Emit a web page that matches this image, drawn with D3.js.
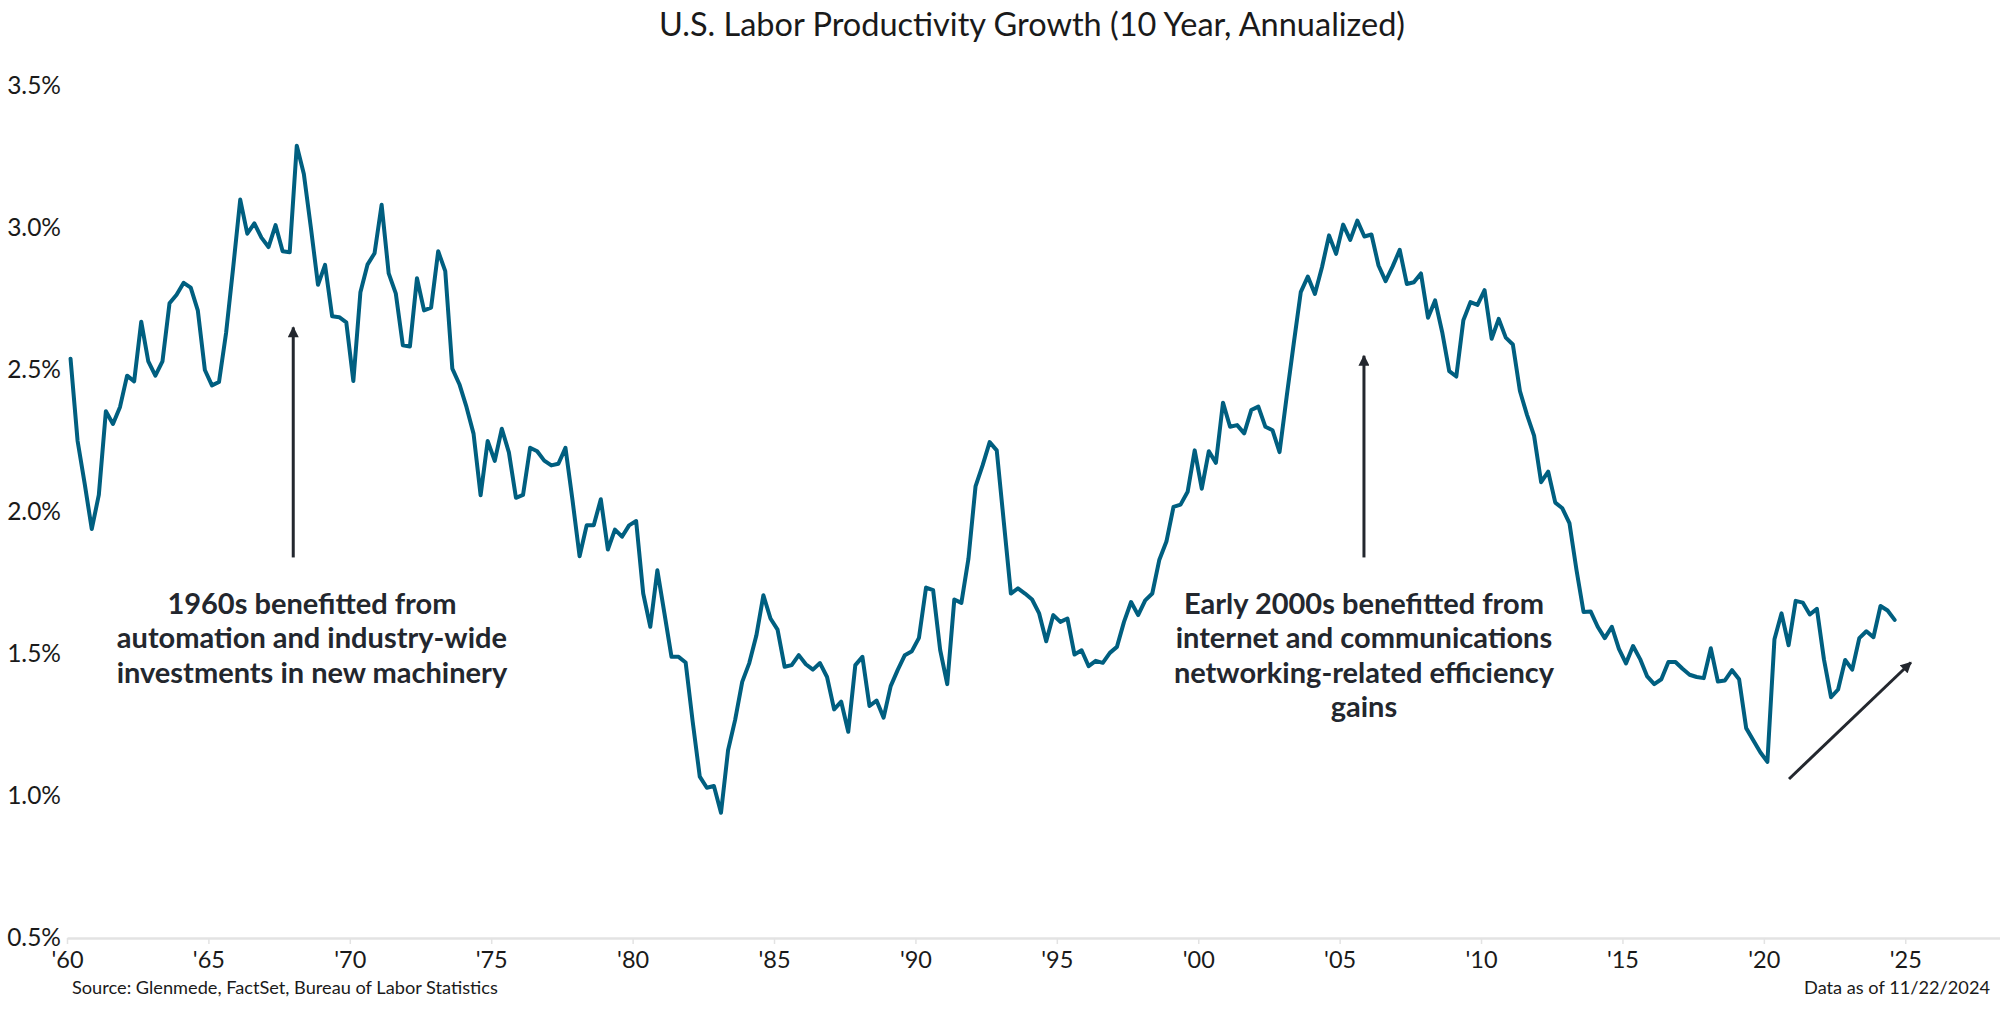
<!DOCTYPE html>
<html>
<head>
<meta charset="utf-8">
<script src="https://cdn.jsdelivr.net/npm/d3@7"></script>
<style>
  html, body { margin: 0; padding: 0; background: #ffffff; }
  svg { display: block; font-family: Lato, "Open Sans", sans-serif; }
</style>
</head>
<body>
<svg id="chart" width="2000" height="1010"></svg>
<script>
// ---------------- data ----------------
const title = "U.S. Labor Productivity Growth (10 Year, Annualized)";
const sourceText = "Source: Glenmede, FactSet, Bureau of Labor Statistics";
const asOfText = "Data as of 11/22/2024";
const startYear = 1960;          // first quarter: 1960 Q1, quarterly thereafter
const productivity = [
  2.54,2.25,2.10,1.94,2.06,2.355,2.31,2.37,2.48,2.46,
  2.67,2.53,2.48,2.53,2.735,2.765,2.807,2.79,2.71,2.50,
  2.446,2.458,2.63,2.86,3.10,2.98,3.016,2.966,2.933,3.01,
  2.918,2.915,3.29,3.19,3.00,2.80,2.87,2.689,2.686,2.668,
  2.461,2.774,2.871,2.911,3.082,2.84,2.77,2.587,2.583,2.823,
  2.71,2.72,2.918,2.848,2.505,2.45,2.37,2.276,2.059,2.25,
  2.18,2.293,2.21,2.05,2.06,
  2.226,2.214,2.181,2.164,2.17,2.226,2.041,1.844,1.953,1.953,
  2.045,1.868,1.938,1.913,1.953,1.968,1.713,1.596,1.795,1.643,
  1.49,1.49,1.47,1.261,1.068,1.029,1.035,0.941,1.161,1.268,
  1.402,1.468,1.565,1.707,1.625,1.586,1.455,1.461,1.496,1.464,
  1.445,1.468,1.419,1.305,1.332,1.226,1.461,1.49,1.317,1.336,
  1.276,1.387,1.444,1.496,1.51,1.557,1.734,1.725,1.514,1.394,
  1.692,1.68,1.836,2.09,2.164,2.246,
  2.217,1.965,1.713,1.731,1.713,1.692,1.643,1.545,1.637,1.613,
  1.625,1.498,1.513,1.457,1.476,1.469,1.504,1.525,1.613,1.683,
  1.637,1.689,1.713,1.832,1.896,2.018,2.026,2.071,2.217,2.082,
  2.214,2.173,2.385,2.3,2.306,2.277,2.359,2.371,2.3,2.288,
  2.211,2.405,2.592,2.774,2.829,2.768,2.862,2.974,2.909,3.012,
  2.958,3.026,2.97,2.977,2.868,2.813,2.865,2.923,2.803,2.809,
  2.84,2.684,2.745,2.634,2.496,2.477,
  2.675,2.739,2.729,2.781,2.61,2.68,2.614,2.59,2.426,2.342,
  2.269,2.105,2.142,2.033,2.013,1.961,1.796,1.648,1.65,1.596,
  1.556,1.596,1.518,1.467,1.528,1.482,1.421,1.394,1.411,1.472,
  1.472,1.448,1.427,1.419,1.415,1.52,1.403,1.407,1.443,1.411,
  1.239,1.196,1.154,1.12,1.552,1.643,1.531,1.687,1.681,1.639,
  1.659,1.481,1.348,1.375,1.479,1.445,1.556,1.58,1.559,1.669,
  1.653,1.62
];
const xTickYears = [1960,1965,1970,1975,1980,1985,1990,1995,2000,2005,2010,2015,2020,2025];
const xTickLabels = ["'60","'65","'70","'75","'80","'85","'90","'95","'00","'05","'10","'15","'20","'25"];
const yTickValues = [0.5,1.0,1.5,2.0,2.5,3.0,3.5];
const yTickLabels = ["0.5%","1.0%","1.5%","2.0%","2.5%","3.0%","3.5%"];

// annotations (data units: year, percent)
const arrowStarts = [[1968.0, 1.84], [2005.86, 1.84], [2020.89, 1.06]];
const arrowEnds   = [[1968.0, 2.65], [2005.86, 2.55], [2025.2, 1.47]];
const noteCenters = [1968.66, 2005.86];
const noteLines = [
  ["1960s benefitted from", "automation and industry-wide", "investments in new machinery"],
  ["Early 2000s benefitted from", "internet and communications", "networking-related efficiency", "gains"]
];

// ---------------- chart ----------------
const W = 2000, H = 1010;
const svg = d3.select("#chart");

const x = d3.scaleLinear().domain([1960, 2028.35]).range([67, 2000]);
const y = d3.scaleLinear().domain([0.5, 3.5]).range([938, 86]);

const series = productivity.map((v, i) => ({ t: startYear + i / 4 + 0.125, v }));

// title
svg.append("text")
  .attr("x", 1032).attr("y", 36)
  .attr("text-anchor", "middle")
  .attr("font-size", 32.5)
  .attr("fill", "#1a1a1a")
  .text(title);

// x axis
const xAxis = d3.axisBottom(x)
  .tickValues(xTickYears)
  .tickFormat((d, i) => xTickLabels[i])
  .tickSize(6)
  .tickSizeOuter(0);
const gx = svg.append("g").attr("transform", `translate(0,${y(0.5)})`).call(xAxis);
gx.select(".domain").attr("stroke", "#e3e3e3").attr("stroke-width", 2.5);
gx.selectAll(".tick line").attr("stroke", "#e3e3e3").attr("stroke-width", 1.5);
gx.selectAll(".tick text")
  .attr("font-family", "Lato, sans-serif")
  .attr("font-size", 23.5)
  .attr("fill", "#1a1a1a")
  .attr("dy", "0.45em")
  .attr("y", 19);

// y axis labels (no line)
const yAxis = d3.axisLeft(y)
  .tickValues(yTickValues)
  .tickFormat((d, i) => yTickLabels[i])
  .tickSize(0);
const gy = svg.append("g").attr("transform", "translate(61,0)").call(yAxis);
gy.select(".domain").remove();
gy.selectAll(".tick text")
  .attr("font-family", "Lato, sans-serif")
  .attr("font-size", 24.5)
  .attr("fill", "#1a1a1a")
  .attr("x", 0);

// line
const line = d3.line().x(d => x(d.t)).y(d => y(d.v));
svg.append("path")
  .datum(series)
  .attr("fill", "none")
  .attr("stroke", "#005f80")
  .attr("stroke-width", 4)
  .attr("stroke-linejoin", "round")
  .attr("stroke-linecap", "round")
  .attr("d", line);

// arrow marker
svg.append("defs").append("marker")
  .attr("id", "ah")
  .attr("viewBox", "0 0 10 10")
  .attr("refX", 9).attr("refY", 5)
  .attr("markerWidth", 12).attr("markerHeight", 11)
  .attr("markerUnits", "userSpaceOnUse")
  .attr("orient", "auto")
  .append("path")
  .attr("d", "M0,0 L10,5 L0,10 Z")
  .attr("fill", "#23272e");

arrowStarts.forEach((s, i) => {
  const e = arrowEnds[i];
  svg.append("line")
    .attr("x1", x(s[0])).attr("y1", y(s[1]))
    .attr("x2", x(e[0])).attr("y2", y(e[1]))
    .attr("stroke", "#23272e")
    .attr("stroke-width", 3)
    .attr("marker-end", "url(#ah)");
});

// annotation text
noteLines.forEach((lines, i) => {
  const t = svg.append("text")
    .attr("text-anchor", "middle")
    .attr("font-size", 29)
    .attr("font-weight", 700)
    .attr("fill", "#23272e");
  lines.forEach((l, j) => {
    t.append("tspan")
      .attr("x", x(noteCenters[i]))
      .attr("y", 614 + j * 34.4)
      .text(l);
  });
});

// footer
svg.append("text")
  .attr("x", 72).attr("y", 994)
  .attr("font-size", 18.2)
  .attr("fill", "#1a1a1a")
  .text(sourceText);
svg.append("text")
  .attr("x", 1990).attr("y", 994)
  .attr("text-anchor", "end")
  .attr("font-size", 18.2)
  .attr("fill", "#1a1a1a")
  .text(asOfText);
</script>
</body>
</html>
